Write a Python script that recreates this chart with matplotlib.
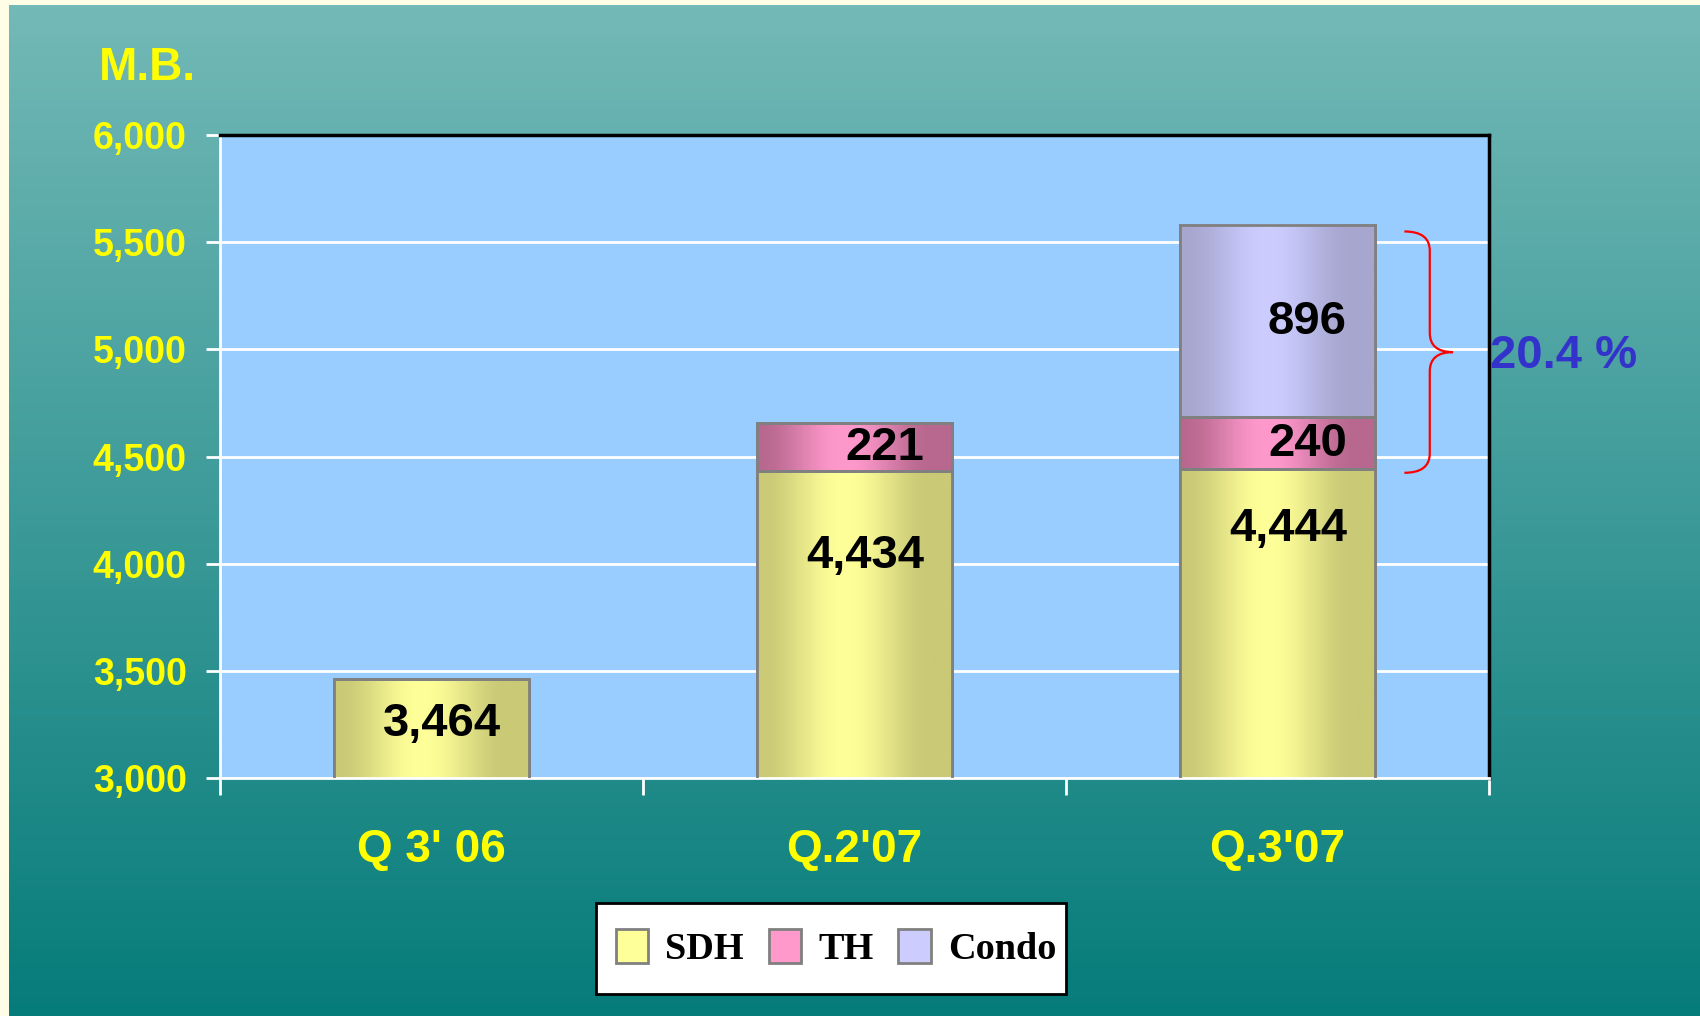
import numpy as np
import matplotlib
matplotlib.use("Agg")
import matplotlib.pyplot as plt
from matplotlib.path import Path
from matplotlib.patches import PathPatch, Rectangle

# data
quarters = ["Q 3' 06", "Q.2'07", "Q.3'07"]
sdh = [3464, 4434, 4444]
th = [0, 221, 240]
condo = [0, 0, 896]
series_names = ["SDH", "TH", "Condo"]
y_ticks = [3000, 3500, 4000, 4500, 5000, 5500, 6000]

# layout
sdh_label_y = [3251, 4035, 4160]
bar_w = 0.46
light = {"SDH": "#ffff99", "TH": "#ff99cc", "Condo": "#ccccff"}
dark = {"SDH": "#c9c976", "TH": "#b8688f", "Condo": "#a6a6cf"}
y_lo, y_hi = 3000, 6000

plt.rcParams['font.family'] = ['Liberation Sans', 'DejaVu Sans']

W, H = 1700, 1016
fig = plt.figure(figsize=(W / 100, H / 100), dpi=100, facecolor="#fffde6")

# background gradient
bg = fig.add_axes([9 / W, 0, 1 - 9 / W, 1 - 5 / H])
top_c = np.array([0x73, 0xb9, 0xb7]) / 255
bot_c = np.array([0x06, 0x7c, 0x7a]) / 255
t = np.linspace(0, 1, 256)[:, None]
grad = top_c[None, :] * (1 - t) + bot_c[None, :] * t
bg.imshow(grad[:, None, :], aspect="auto", extent=(0, 1, 0, 1))
bg.axis("off")

ax = fig.add_axes([220 / W, 1 - 778 / H, (1489 - 220) / W, (778 - 135) / H])
ax.set_facecolor("#99ccff")

x = np.arange(len(quarters))


def gradient_fill(patches, name):
    c1 = np.array(matplotlib.colors.to_rgb(dark[name]))
    c2 = np.array(matplotlib.colors.to_rgb(light[name]))
    u = np.linspace(0, 1, 200)
    g = np.clip(1 - np.abs(u - 0.45) / 0.45, 0, 1)
    f = 0.5 - 0.5 * np.cos(np.pi * g)
    img = c1[None, :] * (1 - f[:, None]) + c2[None, :] * f[:, None]
    for p in patches:
        if p.get_height() <= 0:
            continue
        x0, y0 = p.get_x(), p.get_y()
        y1 = y0 + p.get_height()
        y0 = max(y0, y_lo)
        ax.imshow(img[None, :, :], aspect="auto", zorder=2.5,
                  extent=(x0, x0 + p.get_width(), y0, y1))


bottoms = [np.zeros(3), np.array(sdh), np.array(sdh) + np.array(th)]
vals = [sdh, th, condo]
handles = []
for name, v, b in zip(series_names, vals, bottoms):
    bars = ax.bar(x, v, bar_w, bottom=b, color=light[name], edgecolor="#808080",
                  linewidth=2, zorder=2, label=name)
    gradient_fill(bars, name)
    ax.bar(x, v, bar_w, bottom=b, facecolor="none", edgecolor="#808080",
           linewidth=2, zorder=3)
    handles.append(bars)

ax.set_xlim(-0.5, 2.5)
ax.set_ylim(y_lo, y_hi)

# value labels
lab_x = x + bar_w / 2 - 0.066
lab_kw = dict(ha="right", va="center", fontsize=34, fontweight="bold", color="black", zorder=5)
for i in range(3):
    ax.text(lab_x[i], sdh_label_y[i], f"{sdh[i]:,}", **lab_kw)
    if th[i] > 0:
        ax.text(lab_x[i], sdh[i] + th[i] / 2 - 5, f"{th[i]:,}", **lab_kw)
    if condo[i] > 0:
        ax.text(lab_x[i], sdh[i] + th[i] + condo[i] * 0.5 - 5, f"{condo[i]:,}", **lab_kw)

# grid and spines
ax.set_yticks(y_ticks)
ax.set_yticklabels([f"{v:,}" for v in y_ticks])
ax.yaxis.grid(True, color="white", linewidth=2, zorder=1)
ax.set_axisbelow(True)
for s in ["top", "right"]:
    ax.spines[s].set_color("black")
    ax.spines[s].set_linewidth(2.5)
for s in ["left", "bottom"]:
    ax.spines[s].set_color("white")
    ax.spines[s].set_linewidth(2)

ax.tick_params(axis="y", colors="white", length=10, width=2, pad=14,
               labelcolor="#ffff00", labelsize=27)
for lbl in ax.get_yticklabels():
    lbl.set_fontweight("bold")

ax.set_xticks(x)
ax.set_xticklabels(quarters, fontsize=33, fontweight="bold", color="#ffff00")
ax.tick_params(axis="x", length=0, pad=36)
ax.set_xticks([-0.5, 0.5, 1.5, 2.5], minor=True)
ax.tick_params(axis="x", which="minor", length=12, width=2, colors="white")

fig.text(147 / W, 1 - 68 / H, "M.B.", fontsize=33, fontweight="bold",
         color="#ffff00", ha="center", va="center")

# brace over TH + Condo of last quarter
total = sdh[2] + th[2] + condo[2]
ytop, ybot = total - 30, sdh[2] - 20
ytip = (ytop + ybot) / 2
x0, xv, xt = 2.30, 2.36, 2.415
r = 90
verts = [(x0, ytop), (xv, ytop), (xv, ytop - r),
         (xv, ytip + r), (xv, ytip), (xt, ytip),
         (xv, ytip), (xv, ytip - r),
         (xv, ybot + r), (xv, ybot), (x0, ybot)]
codes = [Path.MOVETO, Path.CURVE3, Path.CURVE3,
         Path.LINETO, Path.CURVE3, Path.CURVE3,
         Path.CURVE3, Path.CURVE3,
         Path.LINETO, Path.CURVE3, Path.CURVE3]
ax.add_patch(PathPatch(Path(verts, codes), facecolor="none", edgecolor="red",
                       linewidth=1.6, zorder=4))
share = (th[2] + condo[2]) / total * 100
ax.text(2.503, ytip - 20, f"{share:.1f} %", ha="left", va="center", fontsize=34,
        fontweight="bold", color="#3333cc", clip_on=False)

# legend box drawn separately so its padding matches
fig.patches.append(Rectangle((596 / W, 1 - 994 / H), 470 / W, 91 / H,
                             transform=fig.transFigure, facecolor="white",
                             edgecolor="black", linewidth=2, zorder=1))
leg = fig.legend(handles=handles, labels=series_names, loc="center",
                 bbox_to_anchor=(836 / W, 1 - 948 / H), ncol=3, frameon=False,
                 prop={"family": "Liberation Serif", "weight": "bold", "size": 27.5},
                 handlelength=0.85, handleheight=1.0, handletextpad=0.45,
                 columnspacing=0.65, borderpad=0, borderaxespad=0)
leg.set_zorder(2)

fig.savefig("out.png", dpi=100, facecolor=fig.get_facecolor())
